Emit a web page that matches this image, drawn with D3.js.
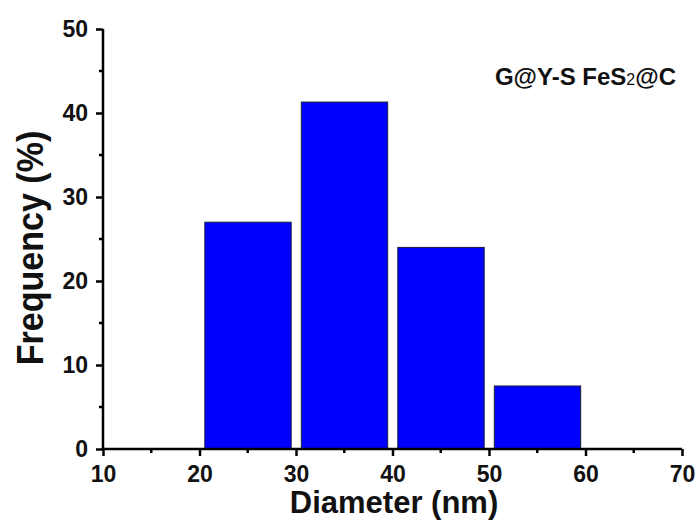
<!DOCTYPE html>
<html>
<head>
<meta charset="utf-8">
<script src="https://cdn.jsdelivr.net/npm/d3@7"></script>
<style>
  body { margin: 0; background: #fff; }
  text { font-family: Arial, "Liberation Sans", sans-serif; font-weight: bold; }
</style>
</head>
<body>
<svg width="700" height="521"></svg>
<script>
// bin ranges and frequencies
var binStart = [20, 30, 40, 50],
    binEnd = [30, 40, 50, 60],
    freq = [27.0, 41.3, 24.0, 7.5];

var xTicks = [10, 20, 30, 40, 50, 60, 70],
    yTicks = [0, 10, 20, 30, 40, 50];

var svg = d3.select("svg"),
    margin = {top: 29, right: 18, bottom: 72, left: 103},
    width = +svg.attr("width") - margin.left - margin.right,
    height = +svg.attr("height") - margin.top - margin.bottom;

var x = d3.scaleLinear().domain([10, 70]).range([0, width]),
    y = d3.scaleLinear().domain([0, 50]).range([height, 0]);

var g = svg.append("g")
    .attr("transform", "translate(" + margin.left + "," + margin.top + ")");

var data = binStart.map(function(d, i) {
  return {x0: d, x1: binEnd[i], v: freq[i]};
});

// bars, with a small gap on both sides of each bin
g.selectAll(".bar")
  .data(data)
  .enter().append("rect")
    .attr("class", "bar")
    .attr("x", function(d) { return x(d.x0 + 0.55); })
    .attr("width", function(d) { return x(d.x1 - 0.5) - x(d.x0 + 0.55); })
    .attr("y", function(d) { return y(d.v); })
    .attr("height", function(d) { return height - y(d.v); })
    .attr("fill", "#0000ff")
    .attr("stroke", "#1a1a3a")
    .attr("stroke-width", 1);

// minor ticks
var xMinor = d3.range(15, 70, 10),
    yMinor = d3.range(5, 50, 10);

var xAx = g.append("g")
    .attr("transform", "translate(0," + height + ")");
xAx.call(d3.axisBottom(x).tickValues(xTicks).tickSize(7).tickPadding(10).tickFormat(d3.format("d")));
xAx.selectAll(".minor")
  .data(xMinor)
  .enter().append("line")
    .attr("x1", function(d) { return x(d); })
    .attr("x2", function(d) { return x(d); })
    .attr("y1", 0).attr("y2", 4)
    .attr("stroke", "#000").attr("stroke-width", 2.5);

var yAx = g.append("g");
yAx.call(d3.axisLeft(y).tickValues(yTicks).tickSize(7).tickPadding(8).tickFormat(d3.format("d")));
yAx.selectAll(".minor")
  .data(yMinor)
  .enter().append("line")
    .attr("y1", function(d) { return y(d); })
    .attr("y2", function(d) { return y(d); })
    .attr("x1", 0).attr("x2", -4)
    .attr("stroke", "#000").attr("stroke-width", 2.5);

g.selectAll(".domain").attr("stroke", "#000").attr("stroke-width", 2.5);
g.selectAll(".tick line").attr("stroke", "#000").attr("stroke-width", 2.5);
g.selectAll(".tick text").attr("font-size", 23).attr("fill", "#111");
xAx.selectAll(".domain").attr("d", "M0,0H" + width);
yAx.selectAll(".domain").attr("d", "M0," + height + "V0");

// axis titles
svg.append("text")
    .attr("x", 394)
    .attr("y", 513)
    .attr("text-anchor", "middle")
    .attr("font-size", 31)
    .attr("fill", "#111")
    .text("Diameter (nm)");

svg.append("text")
    .attr("transform", "translate(43,248) rotate(-90) scale(0.92,1)")
    .attr("text-anchor", "middle")
    .attr("font-size", 37)
    .attr("fill", "#111")
    .text("Frequency (%)");

// sample label
var lbl = svg.append("text")
    .attr("x", 676)
    .attr("y", 85)
    .attr("text-anchor", "end")
    .attr("font-size", 24)
    .attr("fill", "#111");
lbl.append("tspan").text("G@Y-S FeS");
lbl.append("tspan").attr("font-size", 16).attr("font-weight", "normal").text("2");
lbl.append("tspan").text("@C");
</script>
</body>
</html>
